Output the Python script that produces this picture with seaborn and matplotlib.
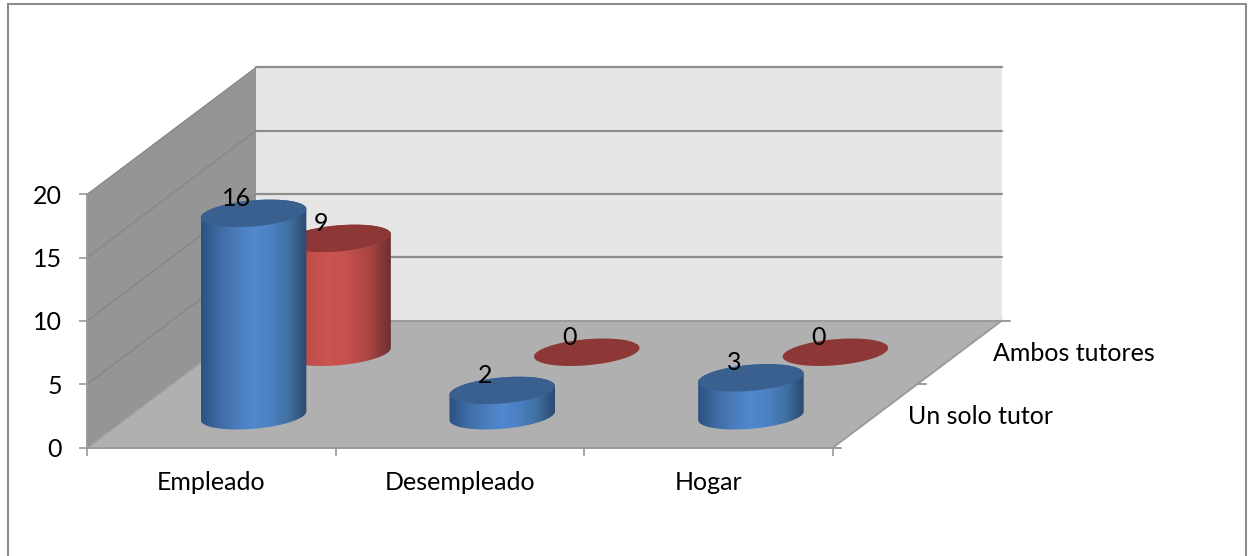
import numpy as np
import pandas as pd
import seaborn as sns
import matplotlib.pyplot as plt
from matplotlib.patches import Ellipse, PathPatch, Polygon, Rectangle
from matplotlib.path import Path
from matplotlib.transforms import Affine2D, IdentityTransform

categories = ["Empleado", "Desempleado", "Hogar"]
un_solo_tutor = [16, 2, 3]
ambos_tutores = [9, 0, 0]
series_names = ["Un solo tutor", "Ambos tutores"]
y_ticks = [0, 5, 10, 15, 20]

sns.set_theme(style="white")
plt.rcParams["font.family"] = ["Lato", "DejaVu Sans"]
FS = 18

W, H = 1255, 556
fig = plt.figure(figsize=(W / 100, H / 100), dpi=100, facecolor="white")
ax = fig.add_axes([87 / W, (H - 447.5) / H, 746 / W, 253 / H])
ax.patch.set_visible(False)

# outer chart frame, runs off the bottom of the picture
fig.add_artist(Rectangle((8 / W, -0.02), 1238 / W, 1.02 - 4 / H, transform=fig.transFigure,
                         fill=False, ec="#8c8c8c", lw=1.5))

# depth axis: skew of the whole floor in pixels
DX, DY = 169, 127
TILT = 5
RY = 13
I = IdentityTransform()


def depth_shift(d):
    return Affine2D().translate(DX * d, DY * d)


df_front = pd.DataFrame({"cat": categories, "val": un_solo_tutor})
df_back = pd.DataFrame({"cat": categories, "val": ambos_tutores})
sns.barplot(data=df_front, x="cat", y="val", color="#5085cd", width=0.426, saturation=1, ax=ax)
sns.barplot(data=df_back, x="cat", y="val", color="#cb5350", width=0.426, saturation=1, ax=ax)
ax.set_xlim(-0.5, 2.5)
ax.set_ylim(0, 20)
ax.set_xlabel("")
ax.set_ylabel("")


def px(x, d, v):
    return depth_shift(d).transform(ax.transData.transform((x, v)))


# walls and floor
xa, xb = ax.get_xlim()
ya, yb = ax.get_ylim()
ax.add_patch(Polygon([px(xa, 0, ya), px(xa, 0, yb), px(xa, 1, yb), px(xa, 1, ya)], transform=I,
                     fc="#959595", ec="none", clip_on=False, zorder=0.5))
ax.add_patch(Polygon([px(xa, 1, ya), px(xa, 1, yb), px(xb, 1, yb), px(xb, 1, ya)], transform=I,
                     fc="#e6e6e6", ec="none", clip_on=False, zorder=0.5))
ax.add_patch(Polygon([px(xa, 0, ya), px(xb, 0, ya), px(xb, 1, ya), px(xa, 1, ya)], transform=I,
                     fc="#b0b0b0", ec="none", clip_on=False, zorder=0.6))

for t in y_ticks:
    if t > 0:
        p = np.array([px(xa, 1, t), px(xb, 1, t)])
        ax.plot(p[:, 0], p[:, 1], transform=I, color="#8e8e8e", lw=1.6, clip_on=False, zorder=0.7)
        p = np.array([px(xa, 0, t), px(xa, 1, t)])
        ax.plot(p[:, 0], p[:, 1], transform=I, color="#858585", lw=0.9, clip_on=False, zorder=0.7)
        ax.set_xlim(xa, xb)

# edges of the floor and depth ticks
for a, b in [(px(xa, 0, 0), px(xa, 1, 0)), (px(xb, 0, 0), px(xb, 1, 0)), (px(xa, 1, 0), px(xb, 1, 0))]:
    ax.plot([a[0], b[0]], [a[1], b[1]], transform=I, color="#9a9a9a", lw=1.4, clip_on=False, zorder=0.8)
for d in [0, 0.5, 1]:
    p = px(xb, d, 0)
    ax.plot([p[0], p[0] + 8], [p[1], p[1]], transform=I, color="#9a9a9a", lw=1.4, clip_on=False, zorder=0.8)

cmaps = [sns.blend_palette(["#2c5280", "#3d6ba3", "#4a7cbc", "#5088cf", "#4b80c2", "#40709f", "#2a4a72"], as_cmap=True),
         sns.blend_palette(["#a84342", "#c04d4b", "#cc5451", "#c4504d", "#a84643", "#6e2f2e"], as_cmap=True)]
top_colors = ["#3a6090", "#8d3736"]
depths = [0.25, 0.75]
bases = [4, 2]  # back series is painted first


def ellipse_points(c, rx, start, stop):
    t = np.linspace(start, stop, 50)
    a = np.radians(TILT)
    xs = rx * np.cos(t)
    ys = RY * np.sin(t)
    return np.column_stack([c[0] + xs * np.cos(a) - ys * np.sin(a), c[1] + xs * np.sin(a) + ys * np.cos(a)])


n = len(categories)
for s, (vals, d) in enumerate(zip([un_solo_tutor, ambos_tutores], depths)):
    bars = ax.containers[s]
    for i, bar in enumerate(bars):
        xc = bar.get_x() + bar.get_width() / 2
        v = bar.get_height()
        bar.set_visible(False)
        low = px(xc, d, 0)
        top = px(xc, d, v)
        rx = (ax.transData.transform((bar.get_x() + bar.get_width(), 0))[0]
              - ax.transData.transform((bar.get_x(), 0))[0]) / 2
        z = bases[s]
        if v > 0:
            outline = np.vstack([ellipse_points(low, rx, np.pi, 2 * np.pi),
                                 ellipse_points(top, rx, 0, np.pi)])
            clip = PathPatch(Path(outline), transform=I)
            im = ax.imshow(np.linspace(0, 1, 200)[None, :], cmap=cmaps[s], aspect="auto", vmin=0, vmax=1,
                           extent=(low[0] - rx, low[0] + rx, low[1] - RY - 6, top[1] + RY + 6),
                           transform=I, zorder=z)
            im.set_clip_path(clip)
        ax.add_patch(Ellipse(top, 2 * rx, 2 * RY, angle=TILT, transform=I, fc=top_colors[s], ec="none",
                             clip_on=False, zorder=z + 0.5))
        ax.annotate(str(vals[i]), xy=top, xycoords=I, xytext=(-17 * 0.72, 15 * 0.72),
                    textcoords="offset points", ha="center", va="center", fontsize=FS, color="black",
                    zorder=10, annotation_clip=False)

ax.set_xlim(xa, xb)
ax.set_ylim(ya, yb)

# depth labels
for name, d in zip(series_names, depths):
    ax.annotate(name, xy=px(xb, d, 0), xycoords=I, xytext=(33 * 0.72, -1 * 0.72), textcoords="offset points",
                ha="left", va="center", fontsize=FS, color="black", annotation_clip=False)

sns.despine(ax=ax, top=True, right=True)
for side in ["left", "bottom"]:
    ax.spines[side].set_color("#9a9a9a")
    ax.spines[side].set_linewidth(1.4)
    ax.spines[side].set_zorder(0.9)
ax.set_yticks(y_ticks)
ax.set_xticks(range(n))
ax.set_xticklabels(categories)
ax.set_xticks([-0.5, 0.5, 1.5, 2.5], minor=True)
ax.tick_params(axis="x", which="major", length=0, pad=17, labelsize=FS, colors="black")
ax.tick_params(axis="x", which="minor", length=6, width=1.2, color="#9a9a9a", bottom=True)
ax.tick_params(axis="y", length=6, width=1.2, color="#9a9a9a", pad=12, labelsize=FS, labelcolor="black", left=True)

fig.savefig("out.png", dpi=100)
